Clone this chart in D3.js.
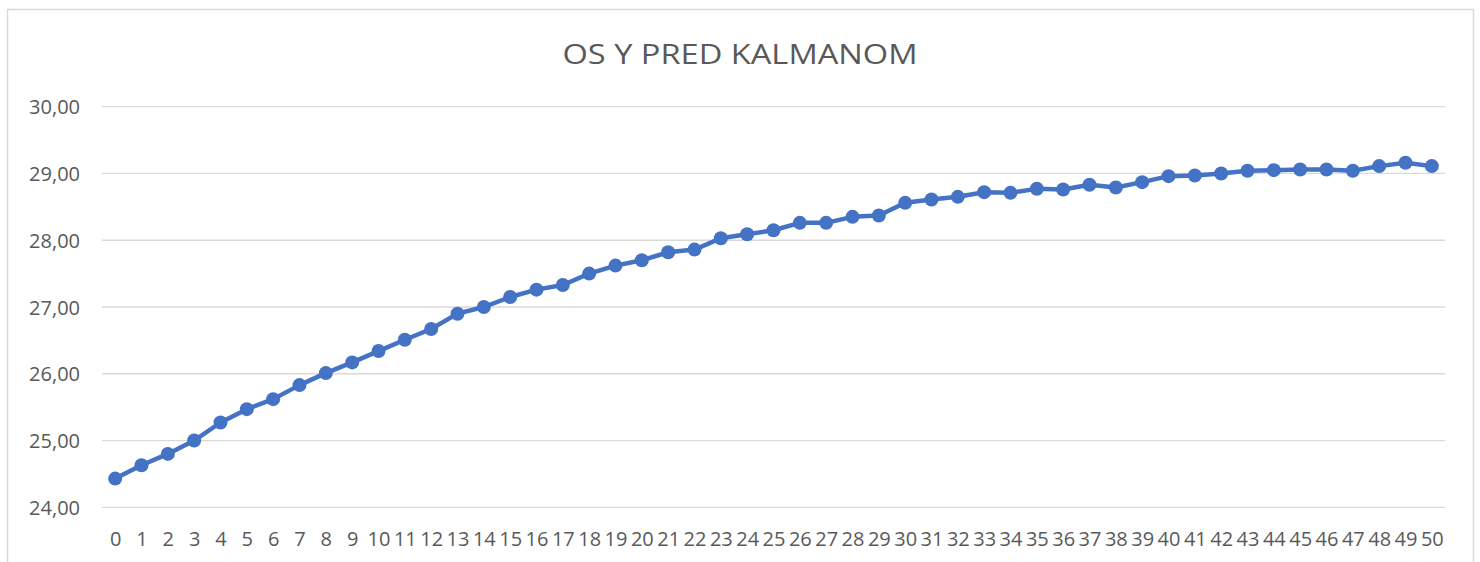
<!DOCTYPE html>
<html>
<head>
<meta charset="utf-8">
<script src="https://cdn.jsdelivr.net/npm/d3@7/dist/d3.min.js"></script>
<style>
  html, body { margin: 0; padding: 0; background: #fff; }
  svg { display: block; }
  text { font-family: "Open Sans", "Liberation Sans", sans-serif; fill: #595959; }
</style>
</head>
<body>
<svg id="chart" width="1480" height="562"></svg>
<script>
const title = "OS Y PRED KALMANOM";
const categories = d3.range(0, 51).map(String);
const values = [
  24.43, 24.63, 24.80, 25.00, 25.27, 25.47, 25.62, 25.83, 26.01, 26.17,
  26.34, 26.51, 26.67, 26.90, 27.00, 27.15, 27.26, 27.33, 27.50, 27.62,
  27.70, 27.82, 27.86, 28.03, 28.09, 28.15, 28.26, 28.26, 28.35, 28.37,
  28.56, 28.61, 28.65, 28.72, 28.71, 28.77, 28.76, 28.83, 28.79, 28.87,
  28.96, 28.97, 29.00, 29.04, 29.05, 29.06, 29.06, 29.04, 29.11, 29.16,
  29.11
];
const yTicks = [24, 25, 26, 27, 28, 29, 30];

(function () {
  const svg = d3.select("#chart");
  const W = 1480;

  // chart border
  svg.append("rect")
    .attr("x", 7.5).attr("y", 9.5)
    .attr("width", 1466).attr("height", 600)
    .attr("fill", "#fff").attr("stroke", "#d9d9d9").attr("stroke-width", 1.5);

  const pLeft = 102, pRight = 1445, pTop = 106.7, pBottom = 507.3;

  const x = d3.scalePoint().domain(categories).range([pLeft, pRight]).padding(0.5);
  const y = d3.scaleLinear().domain([24, 30]).range([pBottom, pTop]);

  // gridlines
  svg.append("g")
    .selectAll("line")
    .data(yTicks)
    .join("line")
    .attr("x1", pLeft).attr("x2", pRight)
    .attr("y1", d => y(d)).attr("y2", d => y(d))
    .attr("stroke", "#d9d9d9").attr("stroke-width", 1.3);

  // y axis labels
  const fmt = d => d3.format(".2f")(d).replace(".", ",");
  const yAxis = d3.axisLeft(y).tickValues(yTicks).tickFormat(fmt).tickSize(0).tickPadding(0);
  const gy = svg.append("g").attr("transform", "translate(80,0)").call(yAxis);
  gy.select(".domain").remove();
  gy.selectAll("text")
    .attr("font-size", 20)
    .attr("font-family", "Open Sans, Liberation Sans, sans-serif")
    .attr("fill", "#595959")
    .attr("dy", "0.36em");

  // x axis labels
  const xAxis = d3.axisBottom(x).tickSize(0).tickPadding(0);
  const gx = svg.append("g").attr("transform", `translate(0,${pBottom})`).call(xAxis);
  gx.select(".domain").remove();
  gx.selectAll("text")
    .attr("font-size", 20)
    .attr("font-family", "Open Sans, Liberation Sans, sans-serif")
    .attr("fill", "#595959")
    .attr("dy", null)
    .attr("y", 39);

  // line
  const line = d3.line()
    .x((d, i) => x(categories[i]))
    .y(d => y(d));

  svg.append("path")
    .datum(values)
    .attr("d", line)
    .attr("fill", "none")
    .attr("stroke", "#4472C4")
    .attr("stroke-width", 4.5)
    .attr("stroke-linejoin", "round");

  svg.append("g")
    .selectAll("circle")
    .data(values)
    .join("circle")
    .attr("cx", (d, i) => x(categories[i]))
    .attr("cy", d => y(d))
    .attr("r", 7)
    .attr("fill", "#4472C4");

  // title
  svg.append("text")
    .attr("x", W / 2).attr("y", 63.5)
    .attr("text-anchor", "middle")
    .attr("font-size", 28)
    .attr("textLength", 355)
    .attr("lengthAdjust", "spacingAndGlyphs")
    .attr("fill", "#595959")
    .text(title);
})();
</script>
</body>
</html>
